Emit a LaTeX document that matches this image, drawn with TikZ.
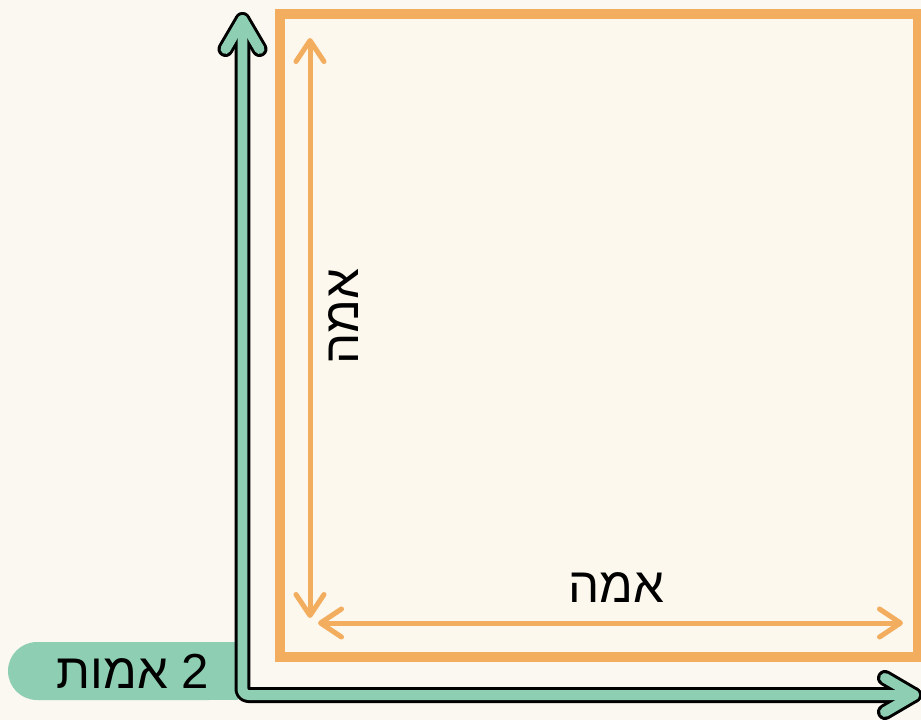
\documentclass[tikz,border=0pt]{standalone}
\usepackage{fontspec}
\usetikzlibrary{arrows.meta,positioning,calc}
\TeXXeTstate=1
\newfontfamily\hebfont[Script=Hebrew]{Liberation Sans}
\definecolor{paper}{HTML}{FBF7F1}
\definecolor{inside}{HTML}{FCF8EE}
\definecolor{amber}{HTML}{F2AE5E}
\definecolor{mint}{HTML}{8ECFB4}
\tikzset{
  label text/.style={font=\hebfont\fontsize{28}{32}\selectfont, text=black, inner sep=0pt},
  measure/.style={draw=amber, line width=0.1cm, line cap=round,
    {Straight Barb[round,length=0.42cm,width=0.56cm]}-{Straight Barb[round,length=0.42cm,width=0.56cm]}},
}
\begin{document}
\begin{tikzpicture}[x=0.02cm,y=-0.02cm]
        % Canvas
        \fill[paper] (0,0) rectangle (921,720);
        \useasboundingbox (0,0) rectangle (921,720);

        % Cubit square
        \filldraw[fill=inside, draw=amber, line width=0.2cm] (280,14) rectangle (918,657);

        % Label tab of the axes
        \fill[mint, rounded corners=0.58cm] (8,642) rectangle (238,700);
        \fill[mint] (120,642) rectangle (238,700);
        \node[label text] (twocubits) at (133,671) {\beginR 2 אמות\endR};

        % Green axes (outline, then fill)
        \coordinate (corner) at (242.5,695);
        \coordinate (ytip) at (242.5,20);
        \coordinate (xtip) at (914,695);
        \foreach \col/\wd in {black/0.32cm, mint/0.2cm} {
          \draw[\col, line width=\wd, line cap=round, line join=round, rounded corners=0.12cm]
            (ytip) -- (corner) -- (xtip);
          \draw[\col, line width=\wd, line cap=round, line join=round]
            ($(ytip)+(-17,29)$) -- (ytip) -- ($(ytip)+(17,29)$);
          \draw[\col, line width=\wd, line cap=round, line join=round]
            ($(xtip)+(-29,-17)$) -- (xtip) -- ($(xtip)+(-29,17)$);
        }

        % Dimension arrows inside the square
        \coordinate (vtop) at (310,38);
        \coordinate (vbot) at (310,618);
        \coordinate (hleft) at (318,623);
        \coordinate (hright) at (903,623);
        \draw[measure] (vtop) -- (vbot);
        \draw[measure] (hleft) -- (hright);

        % Side labels
        \node[label text] (sideh) at (616,588) {\beginR אמה\endR};
        \node[label text, rotate=90] (sidev) at (344,317) {\beginR אמה\endR};
\end{tikzpicture}
\end{document}
